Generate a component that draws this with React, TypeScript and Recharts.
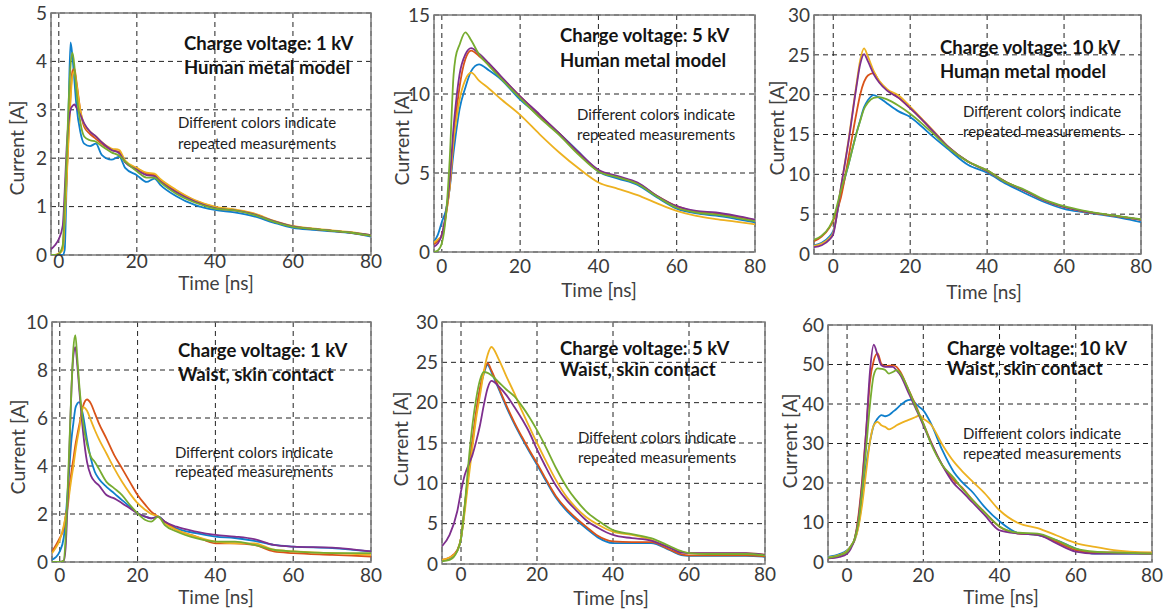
import { CartesianGrid, Line, LineChart, ReferenceArea, XAxis, YAxis } from "recharts"

const FONT = "Lato, 'Open Sans', 'DejaVu Sans', sans-serif"

const BLUE = "#0f7fcc"
const ORANGE = "#d95319"
const YELLOW = "#edb120"
const PURPLE = "#7e2f8e"
const GREEN = "#77ac30"

const timeTicks = [0, 20, 40, 60, 80]

// 1 kV, human metal model
const hm1Time = [-2, -1, 0, 1, 1.5, 2, 2.5, 3, 3.5, 4, 4.5, 5.5, 6.5, 8, 9.5, 11, 13.5, 15.5, 17, 20, 22.5, 24.5, 26, 30, 35, 40, 45, 50, 55, 60, 65, 70, 75, 80]
const hm1Blue = [0, 0, 0, 0, 0.1, 1.5, 3.0, 4.39, 4.1, 3.6, 3.1, 2.55, 2.3, 2.25, 2.3, 2.07, 1.97, 2.03, 1.8, 1.65, 1.51, 1.58, 1.45, 1.22, 1.03, 0.93, 0.88, 0.8, 0.67, 0.56, 0.52, 0.49, 0.45, 0.38]
const hm1Orange = [0, 0, 0.03, 0.15, 0.8, 1.6, 2.5, 3.3, 3.8, 3.85, 3.6, 3.0, 2.65, 2.5, 2.4, 2.3, 2.17, 2.13, 1.92, 1.79, 1.68, 1.65, 1.55, 1.33, 1.12, 0.99, 0.93, 0.85, 0.7, 0.59, 0.54, 0.5, 0.46, 0.4]
const hm1Yellow = [0, 0, 0.03, 0.1, 0.7, 1.5, 2.4, 3.2, 3.7, 3.8, 3.55, 3.0, 2.7, 2.55, 2.45, 2.33, 2.2, 2.17, 1.95, 1.8, 1.7, 1.68, 1.57, 1.35, 1.13, 1.0, 0.94, 0.86, 0.71, 0.6, 0.55, 0.51, 0.47, 0.41]
const hm1Purple = [0.12, 0.2, 0.33, 0.6, 1.3, 2.2, 2.75, 3.0, 3.08, 3.11, 3.05, 2.9, 2.72, 2.55, 2.45, 2.33, 2.17, 2.1, 1.92, 1.76, 1.65, 1.63, 1.52, 1.3, 1.1, 0.97, 0.92, 0.84, 0.7, 0.59, 0.54, 0.5, 0.46, 0.41]
const hm1Green = [0, 0, 0.02, 0.2, 1.0, 2.0, 3.1, 3.9, 4.18, 3.9, 3.4, 2.75, 2.45, 2.37, 2.34, 2.25, 2.12, 2.05, 1.93, 1.73, 1.6, 1.6, 1.5, 1.27, 1.08, 0.96, 0.92, 0.83, 0.69, 0.58, 0.54, 0.5, 0.46, 0.4]

// 5 kV, human metal model
const hm5Time = [-2, -1, 0, 1, 2, 3, 3.5, 4.5, 6, 7.5, 9.5, 12, 15, 20, 25, 30, 35, 40, 45, 50, 55, 60, 65, 70, 75, 80]
const hm5Blue = [0.66, 1.1, 1.9, 2.6, 4.0, 6.3, 7.3, 9.0, 10.4, 11.45, 11.88, 11.5, 10.95, 9.64, 8.6, 7.5, 6.32, 5.1, 4.65, 4.25, 3.45, 2.75, 2.45, 2.3, 2.1, 1.88]
const hm5Orange = [0.5, 0.7, 1.1, 2.3, 4.1, 7.1, 8.4, 10.4, 12.2, 12.75, 12.4, 11.9, 11.1, 9.85, 8.65, 7.5, 6.25, 5.15, 4.75, 4.35, 3.55, 2.9, 2.55, 2.45, 2.25, 2.02]
const hm5Yellow = [0.6, 0.8, 1.0, 2.2, 4.1, 7.1, 8.0, 9.6, 10.9, 11.35, 10.85, 10.35, 9.7, 8.68, 7.45, 6.3, 5.28, 4.4, 4.0, 3.6, 3.08, 2.6, 2.28, 2.08, 1.92, 1.75]
const hm5Purple = [0.34, 0.55, 1.09, 2.37, 4.5, 7.9, 9.2, 11.2, 12.5, 12.9, 12.55, 11.95, 11.15, 9.85, 8.7, 7.5, 6.3, 5.2, 4.8, 4.4, 3.55, 2.9, 2.6, 2.5, 2.3, 2.05]
const hm5Green = [0, 0.1, 0.55, 2.2, 5.8, 11.2, 12.3, 13.1, 13.9, 13.4, 12.5, 11.8, 11.0, 9.74, 8.5, 7.4, 6.15, 5.1, 4.72, 4.3, 3.5, 2.8, 2.5, 2.37, 2.18, 1.95]

// 10 kV, human metal model
const hm10Time = [-5, -3, -1, 0, 2, 4, 6, 7, 8, 9, 10.5, 12, 14, 17, 20, 23, 26, 30, 35, 40, 45, 50, 55, 60, 65, 70, 75, 80]
const hm10Blue = [1.07, 1.4, 2.2, 2.9, 7.55, 11.3, 15.1, 16.8, 18.4, 19.3, 19.95, 19.6, 18.9, 17.9, 17.2, 16.0, 14.7, 13.1, 11.2, 10.2, 8.8, 7.6, 6.5, 5.67, 5.25, 4.9, 4.5, 4.0]
const hm10Orange = [1.6, 2.2, 3.3, 4.2, 7.1, 12.2, 17.6, 20.0, 21.6, 22.4, 22.7, 21.6, 20.6, 19.6, 18.3, 16.9, 15.4, 13.4, 11.6, 10.5, 9.0, 7.9, 6.7, 5.9, 5.35, 5.0, 4.65, 4.3]
const hm10Yellow = [1.0, 1.3, 2.0, 2.7, 8.3, 14.4, 21.2, 24.3, 25.8, 24.8, 23.0, 21.7, 20.7, 19.9, 18.5, 17.0, 15.5, 13.4, 11.6, 10.4, 9.0, 7.9, 6.7, 5.9, 5.35, 5.0, 4.65, 4.3]
const hm10Purple = [0.86, 1.1, 1.8, 2.5, 8.4, 14.2, 20.9, 23.8, 25.1, 24.2, 22.6, 21.5, 20.5, 19.6, 18.3, 16.9, 15.4, 13.4, 11.6, 10.4, 9.0, 7.9, 6.7, 5.9, 5.35, 5.0, 4.65, 4.3]
const hm10Green = [1.78, 2.3, 3.4, 4.4, 8.0, 11.3, 15.1, 16.7, 18.2, 19.0, 19.6, 19.7, 19.4, 18.6, 17.6, 16.4, 15.1, 13.3, 11.6, 10.5, 9.0, 8.0, 6.8, 6.0, 5.45, 5.05, 4.7, 4.35]

// 1 kV, waist skin contact
const ws1Time = [-2, -1, 0, 1, 1.5, 2, 2.5, 3, 3.5, 4, 4.5, 5, 6, 7, 8, 9, 10, 12, 14, 16, 18, 20, 22, 23.5, 25.3, 27, 30, 35, 40, 45, 50, 55, 60, 70, 80]
const ws1Blue = [0.1, 0.2, 0.44, 1.0, 1.8, 2.9, 4.0, 5.1, 5.8, 6.4, 6.6, 6.66, 6.1, 5.1, 4.3, 3.76, 3.48, 3.13, 2.86, 2.58, 2.31, 2.03, 1.89, 1.82, 1.89, 1.68, 1.4, 1.2, 1.06, 1.0, 0.88, 0.71, 0.64, 0.58, 0.44]
const ws1Orange = [0.44, 0.7, 1.0, 1.4, 1.9, 2.4, 3.1, 3.76, 4.3, 4.86, 5.3, 5.7, 6.5, 6.77, 6.6, 6.2, 5.8, 5.14, 4.45, 3.9, 3.34, 2.79, 2.38, 2.1, 1.89, 1.68, 1.34, 1.06, 0.78, 0.78, 0.71, 0.44, 0.37, 0.3, 0.23]
const ws1Yellow = [0.37, 0.6, 0.92, 1.5, 1.9, 2.24, 2.9, 3.48, 4.0, 4.59, 5.1, 5.55, 6.45, 6.3, 5.9, 5.5, 5.14, 4.52, 3.9, 3.34, 2.86, 2.45, 2.17, 2.0, 1.89, 1.61, 1.34, 1.06, 0.85, 0.78, 0.78, 0.51, 0.44, 0.37, 0.3]
const ws1Purple = [0, 0, 0, 0.05, 0.6, 2.4, 4.8, 7.2, 8.6, 8.95, 8.2, 7.2, 5.4, 4.17, 3.6, 3.35, 3.2, 2.79, 2.65, 2.45, 2.24, 2.03, 1.89, 1.82, 1.89, 1.68, 1.47, 1.27, 1.13, 1.06, 0.95, 0.71, 0.64, 0.6, 0.44]
const ws1Green = [0, 0, 0, 0.05, 1.0, 2.9, 5.0, 7.2, 8.9, 9.45, 8.5, 7.4, 5.8, 4.9, 4.38, 4.17, 3.9, 3.34, 3.07, 2.79, 2.38, 2.03, 1.75, 1.68, 1.89, 1.54, 1.27, 0.99, 0.85, 0.85, 0.71, 0.51, 0.44, 0.37, 0.37]

// 5 kV, waist skin contact
const ws5Time = [-5, -3, -1, 0, 1, 2, 3, 4, 5, 6, 7, 8, 10, 12, 14, 16, 18, 20, 22, 25, 28, 30, 33, 36, 40, 45, 50, 55, 58, 60, 65, 70, 75, 80]
const ws5Blue = [0.4, 0.7, 1.6, 3.1, 7.1, 11.3, 15.0, 18.7, 21.6, 23.6, 24.7, 23.8, 21.6, 19.4, 17.4, 15.6, 13.9, 12.3, 10.6, 8.2, 6.5, 5.6, 4.4, 3.3, 2.6, 2.6, 2.6, 1.7, 1.1, 1.0, 1.0, 1.0, 1.0, 0.9]
const ws5Orange = [0.5, 0.8, 1.7, 3.2, 7.3, 11.5, 15.2, 18.9, 21.8, 23.8, 24.9, 24.0, 21.8, 19.6, 17.6, 15.8, 14.1, 12.5, 10.8, 8.4, 6.7, 5.8, 4.6, 3.5, 2.8, 2.7, 2.7, 1.77, 1.2, 1.07, 1.07, 1.07, 1.07, 0.95]
const ws5Yellow = [0.5, 0.8, 1.6, 3.2, 6.5, 10.6, 14.4, 18.1, 20.9, 23.8, 25.9, 26.9, 25.3, 23.2, 21.2, 19.0, 17.0, 15.0, 13.1, 10.4, 8.2, 7.1, 5.8, 4.9, 4.0, 3.6, 3.0, 2.0, 1.5, 1.36, 1.36, 1.36, 1.36, 1.15]
const ws5Purple = [2.2, 3.6, 6.5, 9.0, 11.05, 12.3, 13.5, 15.2, 17.2, 19.7, 21.8, 22.7, 22.0, 20.9, 19.5, 18.0, 16.3, 14.2, 12.3, 9.7, 7.8, 6.8, 5.4, 4.5, 3.6, 3.2, 2.9, 2.0, 1.4, 1.36, 1.36, 1.36, 1.36, 1.15]
const ws5Green = [0.33, 0.5, 1.6, 3.2, 7.3, 12.7, 17.2, 20.5, 22.8, 23.8, 23.7, 23.4, 22.5, 21.6, 20.8, 19.6, 18.2, 16.6, 14.8, 11.9, 9.4, 8.1, 6.5, 5.4, 4.2, 3.7, 3.2, 2.2, 1.6, 1.36, 1.24, 1.24, 1.24, 1.07]

// 10 kV, waist skin contact
const ws10Time = [-5, -2, 0, 1, 2, 3, 4, 5, 6, 7, 8, 9, 10, 11, 12, 13, 14, 16, 17, 18, 19, 20, 22, 25, 28, 30, 33, 36, 40, 45, 50, 55, 60, 65, 70, 80]
const ws10Blue = [1.3, 2.0, 3.0, 4.0, 5.5, 9.3, 16.1, 24.5, 30.4, 34.6, 36.3, 37.2, 36.9, 37.2, 38.0, 38.8, 39.7, 41.0, 41.1, 40.1, 39.2, 38.4, 35.1, 28.3, 22.8, 20.4, 17.6, 14.0, 10.3, 7.3, 6.8, 5.5, 3.4, 2.1, 2.1, 2.1]
const ws10Orange = [0.9, 1.6, 2.6, 4.0, 5.9, 11.8, 21.1, 33.0, 45.6, 51.0, 52.8, 50.2, 49.6, 49.7, 49.8, 49.4, 48.1, 43.9, 41.8, 39.7, 37.4, 35.1, 30.4, 24.5, 20.7, 19.0, 15.6, 12.7, 8.9, 7.2, 6.9, 5.1, 3.0, 2.4, 2.4, 2.1]
const ws10Yellow = [1.1, 1.8, 2.8, 4.0, 5.5, 8.9, 14.8, 22.8, 30.4, 34.6, 35.5, 34.6, 34.2, 33.6, 34.0, 34.6, 35.1, 35.9, 36.3, 36.7, 37.1, 36.3, 34.8, 29.7, 25.4, 23.2, 20.3, 17.5, 13.1, 9.8, 8.6, 6.7, 4.8, 3.8, 3.0, 2.4]
const ws10Purple = [0.9, 1.3, 2.1, 3.4, 5.9, 11.0, 20.3, 33.0, 48.1, 55.0, 52.4, 49.8, 49.4, 49.4, 49.4, 48.5, 47.3, 43.1, 41.0, 38.9, 36.8, 34.6, 30.3, 24.5, 19.9, 18.0, 15.0, 12.0, 8.0, 7.2, 6.9, 4.7, 2.6, 2.1, 2.1, 2.1]
const ws10Green = [1.05, 1.7, 2.6, 4.0, 5.9, 10.2, 18.6, 28.7, 39.7, 47.3, 49.0, 48.9, 48.6, 47.7, 48.1, 48.6, 47.7, 43.9, 41.6, 39.3, 37.2, 35.1, 30.0, 24.5, 21.3, 18.8, 15.6, 12.6, 9.0, 7.4, 7.2, 5.5, 3.4, 2.6, 2.4, 2.1]

const noteLines = ["Different colors indicate", "repeated measurements"]

interface Curve {
  name: string
  color: string
  values: number[]
}

interface PanelConfig {
  left: number
  top: number
  plotW: number
  plotH: number
  xMin: number
  yMax: number
  yTicks: number[]
  xTickGap: number
  time: number[]
  curves: Curve[]
  title: string[]
  titleLeft: number
  titleY: number[]
  noteLeft: number
  noteY: number[]
  yLabel: number[]
  xLabel: number[]
}

const curveSet = (b: number[], o: number[], y: number[], p: number[], g: number[]): Curve[] => [
  { name: "blue", color: BLUE, values: b },
  { name: "orange", color: ORANGE, values: o },
  { name: "yellow", color: YELLOW, values: y },
  { name: "purple", color: PURPLE, values: p },
  { name: "green", color: GREEN, values: g },
]

const panels: PanelConfig[] = [
  {
    left: 51, top: 13, plotW: 320, plotH: 242, xMin: -2, yMax: 5, yTicks: [0, 1, 2, 3, 4, 5], xTickGap: 0,
    time: hm1Time, curves: curveSet(hm1Blue, hm1Orange, hm1Yellow, hm1Purple, hm1Green),
    title: ["Charge voltage: 1 kV", "Human metal model"], titleLeft: 184, titleY: [43, 67],
    noteLeft: 178, noteY: [122, 143], yLabel: [17, 148], xLabel: [216, 282],
  },
  {
    left: 434, top: 15, plotW: 321, plotH: 237, xMin: -2, yMax: 15, yTicks: [0, 5, 10, 15], xTickGap: 8,
    time: hm5Time, curves: curveSet(hm5Blue, hm5Orange, hm5Yellow, hm5Purple, hm5Green),
    title: ["Charge voltage: 5 kV", "Human metal model"], titleLeft: 560, titleY: [35, 60],
    noteLeft: 577, noteY: [114, 134], yLabel: [402, 138], xLabel: [599, 289],
  },
  {
    left: 814, top: 15, plotW: 327, plotH: 239, xMin: -5, yMax: 30, yTicks: [0, 5, 10, 15, 20, 25, 30], xTickGap: 6,
    time: hm10Time, curves: curveSet(hm10Blue, hm10Orange, hm10Yellow, hm10Purple, hm10Green),
    title: ["Charge voltage: 10 kV", "Human metal model"], titleLeft: 940, titleY: [47, 71],
    noteLeft: 963, noteY: [111, 131], yLabel: [777, 128], xLabel: [984, 291],
  },
  {
    left: 52, top: 322, plotW: 319, plotH: 240, xMin: -2, yMax: 10, yTicks: [0, 2, 4, 6, 8, 10], xTickGap: 7,
    time: ws1Time, curves: curveSet(ws1Blue, ws1Orange, ws1Yellow, ws1Purple, ws1Green),
    title: ["Charge voltage: 1 kV", "Waist, skin contact"], titleLeft: 178, titleY: [350, 374],
    noteLeft: 175, noteY: [452, 471], yLabel: [18, 447], xLabel: [216, 596],
  },
  {
    left: 442, top: 322, plotW: 323, plotH: 242, xMin: -5, yMax: 30, yTicks: [0, 5, 10, 15, 20, 25, 30], xTickGap: 4,
    time: ws5Time, curves: curveSet(ws5Blue, ws5Orange, ws5Yellow, ws5Purple, ws5Green),
    title: ["Charge voltage: 5 kV", "Waist, skin contact"], titleLeft: 560, titleY: [348, 369],
    noteLeft: 578, noteY: [437, 457], yLabel: [401, 439], xLabel: [611, 597],
  },
  {
    left: 828, top: 325, plotW: 324, plotH: 237, xMin: -5, yMax: 60, yTicks: [0, 10, 20, 30, 40, 50, 60], xTickGap: 7,
    time: ws10Time, curves: curveSet(ws10Blue, ws10Orange, ws10Yellow, ws10Purple, ws10Green),
    title: ["Charge voltage: 10 kV", "Waist, skin contact"], titleLeft: 947, titleY: [348, 368],
    noteLeft: 963, noteY: [433, 453], yLabel: [790, 441], xLabel: [1001, 596],
  },
]

const tickStyle = { fill: "#3a3a3a", fontSize: 19, fontFamily: FONT }

function Panel({ cfg }: { cfg: PanelConfig }) {
  const rows = cfg.time.map((t, i) => {
    const row: Record<string, number> = { t }
    cfg.curves.forEach((c) => {
      row[c.name] = c.values[i]
    })
    return row
  })

  const padL = 50
  const padT = 14
  const padR = 18
  const padB = 28
  const w = cfg.plotW + padL + padR
  const h = cfg.plotH + padT + padB

  return (
    <>
      <div style={{ position: "absolute", left: cfg.left - padL, top: cfg.top - padT, width: w, height: h }}>
        <LineChart width={w} height={h} data={rows} margin={{ top: padT, right: padR, left: 0, bottom: 0 }}>
          <CartesianGrid stroke="#222" strokeDasharray="5 4" strokeWidth={1} />
          <XAxis
            dataKey="t"
            type="number"
            domain={[cfg.xMin, 80]}
            ticks={timeTicks}
            allowDataOverflow
            interval={0}
            height={padB}
            tickSize={0}
            tickMargin={cfg.xTickGap}
            axisLine={false}
            tick={tickStyle}
          />
          <YAxis
            type="number"
            domain={[0, cfg.yMax]}
            ticks={cfg.yTicks}
            allowDataOverflow
            interval={0}
            width={padL}
            tickSize={0}
            tickMargin={4}
            axisLine={false}
            tick={tickStyle}
          />
          {cfg.curves.map((c) => (
            <Line
              key={c.name}
              dataKey={c.name}
              type="monotone"
              stroke={c.color}
              strokeWidth={1.8}
              dot={false}
              activeDot={false}
              isAnimationActive={false}
            />
          ))}
          <ReferenceArea x1={cfg.xMin} x2={80} y1={0} y2={cfg.yMax} fill="none" stroke="#7d7d7d" strokeWidth={1.5} />
        </LineChart>
      </div>

      {cfg.title.map((line, i) => (
        <div
          key={"t" + i}
          style={{
            position: "absolute",
            left: cfg.titleLeft,
            top: cfg.titleY[i] - 11,
            lineHeight: "22px",
            fontSize: 18.5,
            fontWeight: 700,
            color: "#141414",
            fontFamily: FONT,
            whiteSpace: "nowrap",
          }}
        >
          {line}
        </div>
      ))}
      {noteLines.map((line, i) => (
        <div
          key={"n" + i}
          style={{
            position: "absolute",
            left: cfg.noteLeft,
            top: cfg.noteY[i] - 9,
            lineHeight: "18px",
            fontSize: 15,
            color: "#1e1e1e",
            fontFamily: FONT,
            whiteSpace: "nowrap",
          }}
        >
          {line}
        </div>
      ))}
      <div
        style={{
          position: "absolute",
          left: cfg.yLabel[0],
          top: cfg.yLabel[1],
          transform: "translate(-50%, -50%) rotate(-90deg)",
          fontSize: 19.5,
          lineHeight: 1,
          color: "#404040",
          fontFamily: FONT,
          whiteSpace: "nowrap",
        }}
      >
        Current [A]
      </div>
      <div
        style={{
          position: "absolute",
          left: cfg.xLabel[0],
          top: cfg.xLabel[1],
          transform: "translate(-50%, -50%)",
          fontSize: 19,
          lineHeight: 1,
          color: "#404040",
          fontFamily: FONT,
          whiteSpace: "nowrap",
        }}
      >
        Time [ns]
      </div>
    </>
  )
}

export default function App() {
  return (
    <div style={{ position: "absolute", left: 0, top: 0, width: 1172, height: 609, background: "#fff", overflow: "hidden" }}>
      {panels.map((p, i) => (
        <Panel key={i} cfg={p} />
      ))}
    </div>
  )
}
